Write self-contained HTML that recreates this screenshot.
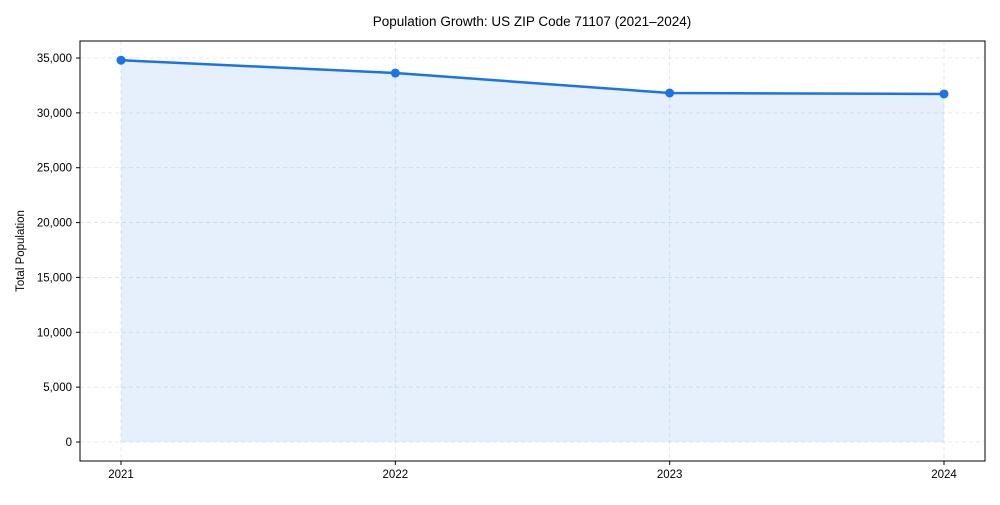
<!DOCTYPE html>
<html><head><meta charset="utf-8"><style>
body{margin:0;background:#fff;}
svg text{font-family:"Liberation Sans Narrow","Liberation Sans",sans-serif;fill:#000;}
</style></head><body>
<svg id="chart" width="1000" height="500" xmlns="http://www.w3.org/2000/svg">
<rect width="1000" height="500" fill="#fff"/>
<text x="532" y="26" text-anchor="middle" font-size="13.5">Population Growth: US ZIP Code 71107 (2021–2024)</text>
<text transform="translate(24,251) rotate(-90)" text-anchor="middle" font-size="11.5">Total Population</text>
<g id="grid"></g><g id="marks"></g><g id="axes"></g>
</svg>
<script>
const years = ["2021","2022","2023","2024"];
const population = [34800, 33630, 31810, 31720];
const yTicks = [0,5000,10000,15000,20000,25000,30000,35000];
const yTickLabels = ["0","5,000","10,000","15,000","20,000","25,000","30,000","35,000"];

const L=80,R=985,T=41,B=461;
const xs=i=>121+i*(944-121)/(years.length-1);
const ys=v=>442-v*(442-58)/35000;
const NS="http://www.w3.org/2000/svg";
function mk(p,tag,a){const e=document.createElementNS(NS,tag);for(const k in a)e.setAttribute(k,a[k]);p.appendChild(e);return e;}
const grid=document.getElementById('grid'),marks=document.getElementById('marks'),axes=document.getElementById('axes');
yTicks.forEach((v,i)=>{
  const g=mk(grid,'line',{x1:L,x2:R,y1:ys(v),y2:ys(v),stroke:'#dde3ea','stroke-dasharray':'4,3','stroke-width':0.8});
  
  
  const t=mk(axes,'line',{x1:L-4,x2:L,y1:ys(v),y2:ys(v),stroke:'#000'});
  
  
  const l=mk(axes,'text',{x:L-8,y:ys(v)+4,'text-anchor':'end','font-size':11.5});
  l.textContent=yTickLabels[i];
  
  
});
years.forEach((y,i)=>{
  const g=mk(grid,'line',{x1:xs(i),x2:xs(i),y1:T,y2:B,stroke:'#dde3ea','stroke-dasharray':'4,3','stroke-width':0.8});
  
  
  const t=mk(axes,'line',{x1:xs(i),x2:xs(i),y1:B,y2:B+4,stroke:'#000'});
  
  
  const l=mk(axes,'text',{x:xs(i),y:B+17,'text-anchor':'middle','font-size':11.5});
  l.textContent=y;
  
  
});
let pts=population.map((v,i)=>xs(i)+','+ys(v)).join(' ');
const area=mk(marks,'polygon',{points:xs(0)+','+ys(0)+' '+pts+' '+xs(years.length-1)+','+ys(0),fill:'#1a73e8','fill-opacity':0.11});


const line=mk(marks,'polyline',{points:pts,fill:'none',stroke:'#1a73e8','stroke-width':2.5});


population.forEach((v,i)=>{
  const c=mk(marks,'circle',{cx:xs(i),cy:ys(v),r:4.5,fill:'#1a73e8'});
  
  
});
const frame=mk(axes,'rect',{x:L,y:T,width:R-L,height:B-T,fill:'none',stroke:'#000','stroke-width':1});


</script>
</body></html>
